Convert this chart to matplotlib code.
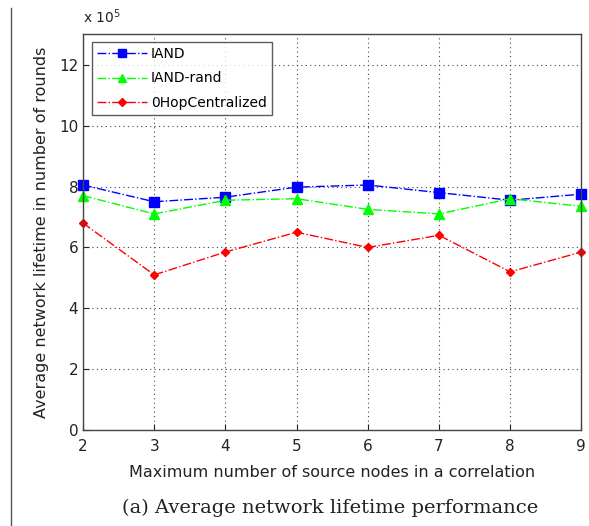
import numpy as np
import matplotlib.pyplot as plt
from matplotlib.lines import Line2D

# Data (values in units of 1e5 rounds)
max_sources = [2, 3, 4, 5, 6, 7, 8, 9]
iand = [8.05, 7.5, 7.65, 7.98, 8.05, 7.8, 7.55, 7.75]
iand_rand = [7.7, 7.1, 7.55, 7.6, 7.25, 7.1, 7.6, 7.35]
zero_hop = [6.8, 5.1, 5.85, 6.5, 6.0, 6.4, 5.2, 5.85]
y_ticks = [0, 2, 4, 6, 8, 10, 12]

fig = plt.figure(figsize=(5.89, 5.26), dpi=100)
ax = fig.add_axes([0.141, 0.182, 0.846, 0.753])

# Plot the three series, matlab-like dash-dot style
ax.plot(max_sources, iand, color='#0000ff', linestyle='-.', linewidth=1.0,
        marker='s', markersize=6.5, label='IAND', clip_on=False)
ax.plot(max_sources, iand_rand, color='#00ff00', linestyle='-.', linewidth=1.0,
        marker='^', markersize=6.5, label='IAND-rand', clip_on=False)
ax.plot(max_sources, zero_hop, color='#ff0000', linestyle='-.', linewidth=1.0,
        marker='D', markersize=4.5, label='0HopCentralized', clip_on=False)

ax.set_xlim(2, 9)
ax.set_ylim(0, 13)
ax.set_xticks(max_sources)
ax.set_yticks(y_ticks)
ax.tick_params(direction='in', labelsize=11, length=4, colors='#222222')
ax.tick_params(axis='x', pad=6)
ax.grid(True, linestyle=(0, (1, 3)), color='#444444', linewidth=0.8)
for s in ax.spines.values():
    s.set_color('#444444')
    s.set_linewidth(1.0)

ax.text(0.0, 1.02, r'x 10$^5$', transform=ax.transAxes, fontsize=10,
        ha='left', va='bottom', color='#222222')

ax.set_xlabel('Maximum number of source nodes in a correlation', fontsize=11.5,
              labelpad=8, color='#222222')
ax.set_ylabel('Average network lifetime in number of rounds', fontsize=11.5,
              labelpad=7, color='#222222')

leg = ax.legend(loc='upper left', bbox_to_anchor=(0.018, 0.98), fontsize=10,
                frameon=True, fancybox=False, edgecolor='#333333',
                handlelength=3.6, handletextpad=0.3, borderpad=0.35,
                labelspacing=0.75, borderaxespad=0, markerscale=0.85)
leg.get_frame().set_linewidth(1.0)

# Caption and left page border
fig.text(0.56, 0.035, '(a) Average network lifetime performance',
         fontsize=14, family='DejaVu Serif', ha='center', va='center',
         color='#222222')
fig.add_artist(Line2D([0.018, 0.018], [0.0, 0.985], transform=fig.transFigure,
                      color='#555555', linewidth=1.0))

plt.savefig('out.png', dpi=100)
